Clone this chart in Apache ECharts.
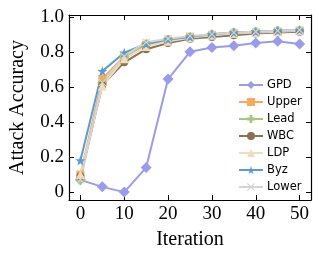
<!DOCTYPE html>
<html><head><meta charset="utf-8">
<script src="https://cdn.jsdelivr.net/npm/echarts@6/dist/echarts.min.js"></script>
<style>html,body{margin:0;padding:0;background:#fff}#c{width:319px;height:255px}</style>
</head><body><div id="c"></div>
<script>
const iterations = [0,5,10,15,20,25,30,35,40,45,50];
const seriesNames = ['GPD','Upper','Lead','WBC','LDP','Byz','Lower'];
const gpd   = [0.07,0.03,0.0,0.14,0.645,0.80,0.825,0.835,0.85,0.86,0.845];
const upper = [0.10,0.645,0.775,0.84,0.865,0.885,0.895,0.905,0.91,0.915,0.92];
const lead  = [0.07,0.62,0.77,0.845,0.87,0.885,0.90,0.91,0.915,0.92,0.92];
const wbc   = [0.09,0.61,0.74,0.815,0.85,0.875,0.885,0.895,0.905,0.91,0.915];
const ldp   = [0.10,0.605,0.76,0.83,0.86,0.88,0.895,0.905,0.91,0.915,0.92];
const byz   = [0.18,0.69,0.795,0.845,0.87,0.885,0.90,0.91,0.915,0.92,0.925];
const lower = [0.07,0.625,0.775,0.855,0.875,0.89,0.90,0.91,0.915,0.92,0.925];
const xTicks = [0,10,20,30,40,50];
const yTicks = [0,0.2,0.4,0.6,0.8,1.0];

const colors = ['#9b9bee','#f8a95b','#a8c77a','#8c7153','#f2dcb9','#5b9bd5','#d4d4d4'];
const STAR = 'path://M0,-10 L2.35,-3.24 L9.51,-3.09 L3.8,1.24 L5.88,8.09 L0,4 L-5.88,8.09 L-3.8,1.24 L-9.51,-3.09 L-2.35,-3.24 Z';
const XMARK = 'path://M-10,-8 L-8,-10 L0,-2 L8,-10 L10,-8 L2,0 L10,8 L8,10 L0,2 L-8,10 L-10,8 L-2,0 Z';
const PLUS = 'path://M-3.5,-10 L3.5,-10 L3.5,-3.5 L10,-3.5 L10,3.5 L3.5,3.5 L3.5,10 L-3.5,10 L-3.5,3.5 L-10,3.5 L-10,-3.5 L-3.5,-3.5 Z';
const symbols = ['diamond','rect',PLUS,'circle','triangle',STAR,XMARK];
const sizes = [11,8,9,8,9,10,8];
const values = [gpd,upper,lead,wbc,ldp,byz,lower];

const serif = 'Liberation Serif';
const axisLine = {show:true, onZero:false, lineStyle:{color:'#000', width:1.2}};
const tick = {show:true, inside:true, length:5, lineStyle:{color:'#000', width:1}};

const chart = echarts.init(document.getElementById('c'), null, {renderer:'canvas'});
chart.setOption({
  animation:false,
  backgroundColor:'#fff',
  grid:{left:62, right:8, top:15, bottom:55},
  legend:{
    orient:'vertical', left:233, top:74,
    itemWidth:24, itemHeight:10, itemGap:5,
    textStyle:{fontFamily:'DejaVu Sans', fontSize:11.5, color:'#000', padding:[0,0,0,-1]},
    data:seriesNames
  },
  xAxis:[{
    type:'value', min:-2.6, max:52.6,
    name:'Iteration', nameLocation:'middle', nameGap:30,
    nameTextStyle:{fontFamily:serif, fontSize:20, color:'#000'},
    axisLine:axisLine,
    axisTick:Object.assign({customValues:xTicks}, tick),
    axisLabel:{customValues:xTicks, fontFamily:serif, fontSize:19, color:'#000', margin:5},
    splitLine:{show:false}
  },{
    type:'value', min:-2.6, max:52.6, position:'top',
    axisLine:axisLine,
    axisTick:Object.assign({customValues:xTicks}, tick),
    axisLabel:{show:false}, splitLine:{show:false}
  }],
  yAxis:[{
    type:'value', min:-0.045, max:1.01,
    name:'Attack Accuracy', nameLocation:'middle', nameGap:41, nameRotate:90,
    nameTextStyle:{fontFamily:serif, fontSize:20, color:'#000'},
    axisLine:axisLine,
    axisTick:Object.assign({customValues:yTicks}, tick),
    axisLabel:{customValues:yTicks, fontFamily:serif, fontSize:19, color:'#000', margin:5,
      formatter:v=> Math.abs(v)<1e-9 ? '0' : v.toFixed(1)},
    splitLine:{show:false}
  },{
    type:'value', min:-0.045, max:1.01, position:'right',
    axisLine:axisLine,
    axisTick:Object.assign({customValues:yTicks}, tick),
    axisLabel:{show:false}, splitLine:{show:false}
  }],
  series: seriesNames.map((n,i)=>({
    name:n, type:'line',
    data: iterations.map((x,j)=>[x, values[i][j]]),
    symbol:symbols[i], symbolSize:sizes[i], showAllSymbol:true,
    itemStyle:{color:colors[i]},
    lineStyle:{color:colors[i], width:2},
    emphasis:{disabled:true}
  }))
});
</script></body></html>
